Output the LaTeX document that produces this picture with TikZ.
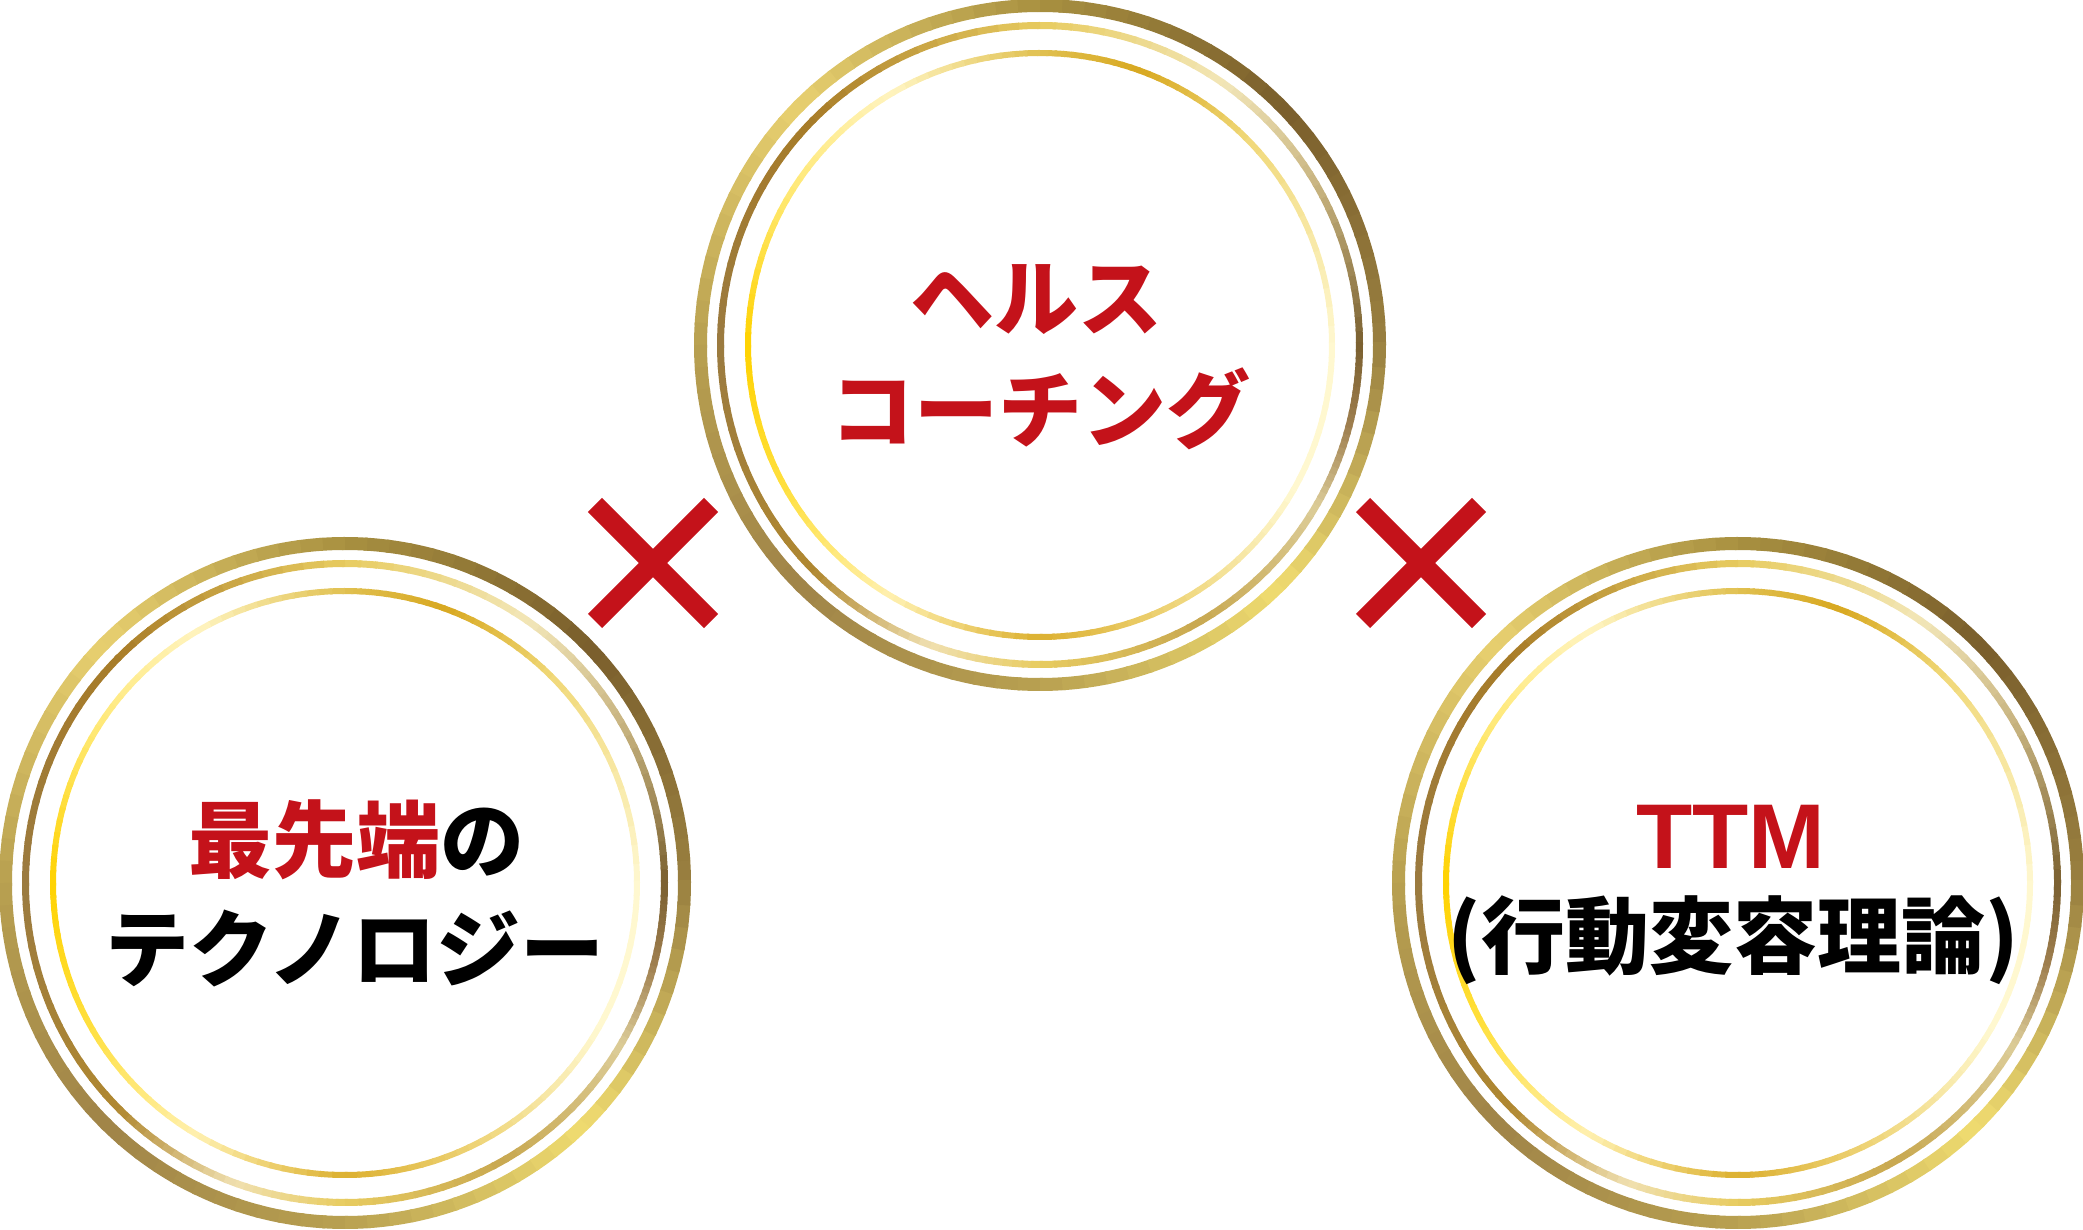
\documentclass[tikz,border=0pt]{standalone}
\usepackage{fontspec}
\newfontfamily\jpfont{Noto Sans CJK JP}
\newfontfamily\ttmfont{Liberation Sans}

\definecolor{markred}{HTML}{C4121A}
% outer ring
\definecolor{oA}{HTML}{9A8040}
\definecolor{oB}{HTML}{7A5E2C}
\definecolor{oC}{HTML}{A89040}
\definecolor{oD}{HTML}{E8D070}
\definecolor{oE}{HTML}{B8A050}
\definecolor{oF}{HTML}{A08448}
\definecolor{oG}{HTML}{F0DC70}
% middle ring
\definecolor{mA}{HTML}{7A6030}
\definecolor{mB}{HTML}{C8B480}
\definecolor{mC}{HTML}{F2E6B8}
\definecolor{mD}{HTML}{E8CC60}
\definecolor{mE}{HTML}{A87C28}
\definecolor{mF}{HTML}{9A7A40}
\definecolor{mG}{HTML}{B08830}
\definecolor{mH}{HTML}{F0E0B0}
\definecolor{mI}{HTML}{C8A850}
\definecolor{mJ}{HTML}{DCCC98}
\definecolor{mK}{HTML}{A08050}
% inner ring
\definecolor{iA}{HTML}{FFF8D0}
\definecolor{iB}{HTML}{F0D878}
\definecolor{iC}{HTML}{D8A820}
\definecolor{iD}{HTML}{E0C050}
\definecolor{iE}{HTML}{FFF4C0}
\definecolor{iF}{HTML}{FFE870}
\definecolor{iG}{HTML}{FFD200}
\definecolor{iH}{HTML}{FFE040}
\definecolor{iI}{HTML}{FFF0B0}
\definecolor{iJ}{HTML}{DCB030}
\definecolor{iK}{HTML}{F0D880}

\newcommand{\ringouter}{0/45/oA/oB, 45/90/oB/oC, 90/135/oC/oD, 135/180/oD/oE,
  180/225/oE/oF, 225/270/oF/oE, 270/315/oE/oG, 315/360/oG/oA}
\newcommand{\ringmiddle}{0/30/mA/mB, 30/55/mB/mC, 55/90/mC/mD, 90/135/mD/mE,
  135/180/mE/mF, 180/225/mF/mG, 225/250/mG/mH, 250/270/mH/mD, 270/300/mD/mI,
  300/330/mI/mJ, 330/345/mJ/mK, 345/360/mK/mA}
\newcommand{\ringinner}{0/45/iA/iB, 45/70/iB/iC, 70/90/iC/iD, 90/120/iD/iE,
  120/150/iE/iF, 150/180/iF/iG, 180/210/iG/iH, 210/240/iH/iI, 240/270/iI/iJ,
  270/300/iJ/iK, 300/330/iK/iA, 330/360/iA/iA}

% #1 centre, #2 radius, #3 width, #4 colour segments
\newcommand{\goldring}[4]{%
  \foreach \aa/\ab/\ca/\cb in #4 {
    \foreach \i in {0,...,11} {
      \pgfmathsetmacro{\sa}{\aa+(\ab-\aa)*\i/12}
      \pgfmathsetmacro{\sb}{\aa+(\ab-\aa)*(\i+1)/12+0.5}
      \pgfmathtruncatemacro{\pc}{100-(\i+0.5)*100/12}
      \draw[line width=#3pt, draw=\ca!\pc!\cb] (#1) ++(\sa:#2) arc[start angle=\sa, end angle=\sb, radius=#2];
    }
  }%
}
\newcommand{\ringset}[1]{%
  \goldring{#1}{339.5}{13}{\ringouter}
  \goldring{#1}{319.5}{7}{\ringmiddle}
  \goldring{#1}{292}{6}{\ringinner}%
}

\begin{document}
\begin{tikzpicture}[x=1pt,y=1pt,
  jptext/.style={font=\jpfont\bfseries\fontsize{84}{100}\selectfont, inner sep=0pt, anchor=base},
  ttmtext/.style={font=\ttmfont\bfseries\fontsize{92}{100}\selectfont, inner sep=0pt, anchor=base, text=markred},
  timesmark/.style={draw=markred, line width=20pt, line cap=butt}]
	\useasboundingbox (0,0) rectangle (2083,1229);
	\coordinate (health) at (1040,884);
	\coordinate (tech) at (345,346);
	\coordinate (ttm) at (1738,346);
	\coordinate (xleft) at (653,666);
	\coordinate (xright) at (1421,666);
	% rings
	\ringset{health}
	\ringset{tech}
	\ringset{ttm}
	% crosses
	\draw[timesmark] ([shift={(-58,-58)}]xleft) -- ([shift={(58,58)}]xleft);
	\draw[timesmark] ([shift={(-58,58)}]xleft) -- ([shift={(58,-58)}]xleft);
	\draw[timesmark] ([shift={(-58,-58)}]xright) -- ([shift={(58,58)}]xright);
	\draw[timesmark] ([shift={(-58,58)}]xright) -- ([shift={(58,-58)}]xright);
	% texts
	\node (health1) at (1036,899) [jptext, text=markred] {ヘルス};
	\node (health2) at (1040,787) [jptext, text=markred] {コーチング};
	\node (tech1) at (356,357) [jptext] {\textcolor{markred}{最先端}の};
	\node (tech2) at (355,248.5) [jptext] {テクノロジー};
	\node (ttm1) at (1731,360.5) [ttmtext] {TTM};
	\node (ttm2) at (1733,261) [jptext] {(行動変容理論)};
\end{tikzpicture}
\end{document}
